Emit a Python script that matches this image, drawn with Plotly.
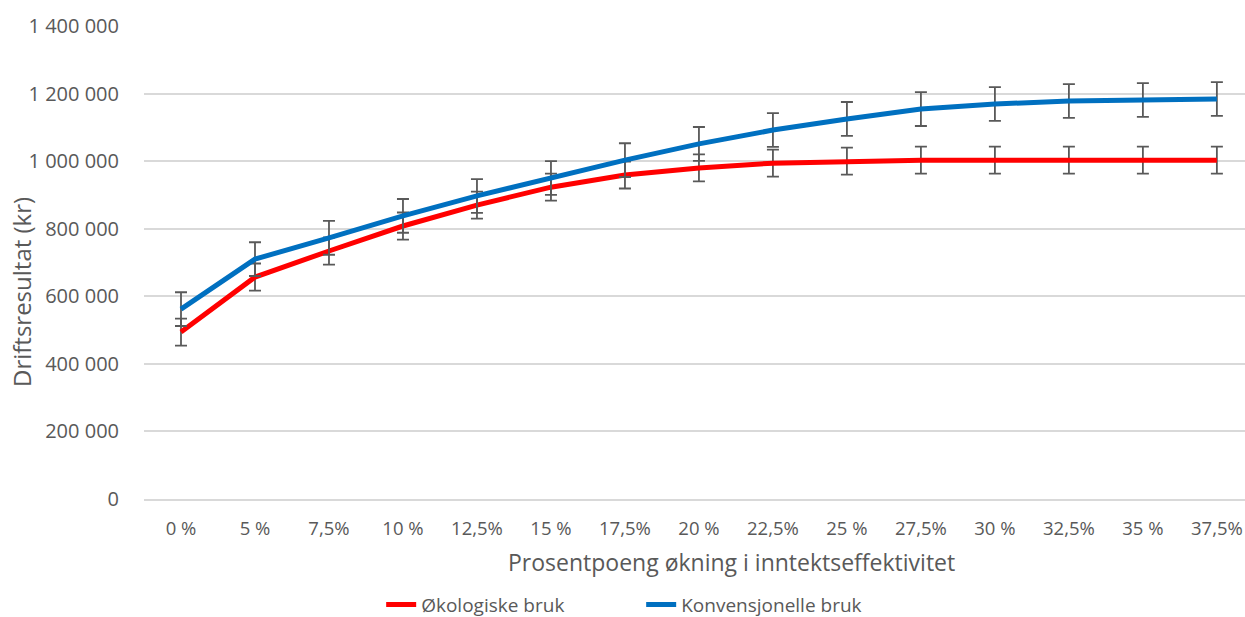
import plotly.graph_objects as go

categories = ["0 %", "5 %", "7,5%", "10 %", "12,5%", "15 %", "17,5%", "20 %",
              "22,5%", "25 %", "27,5%", "30 %", "32,5%", "35 %", "37,5%"]
okologiske = [494000, 657000, 734000, 808000, 870000, 923000, 959000, 980000,
              994000, 1000000, 1003000, 1003000, 1003000, 1003000, 1003000]
konvensjonelle = [562000, 710000, 773000, 838000, 897000, 950000, 1003000, 1051000,
                  1092000, 1125000, 1154000, 1169000, 1178000, 1181000, 1184000]
err_okologiske = 40000
err_konvensjonelle = 50000
y_ticks = [0, 200000, 400000, 600000, 800000, 1000000, 1200000, 1400000]
y_tick_labels = ["0", "200 000", "400 000", "600 000", "800 000", "1 000 000", "1 200 000", "1 400 000"]

FONT = "Open Sans, Liberation Sans, sans-serif"
TXT = "#595959"

fig = go.Figure()
fig.add_trace(go.Scatter(
    x=categories, y=okologiske, mode="lines", name="Økologiske bruk",
    line=dict(color="#FF0000", width=5),
    error_y=dict(type="constant", value=err_okologiske, color="#595959", thickness=1.8, width=6),
))
fig.add_trace(go.Scatter(
    x=categories, y=konvensjonelle, mode="lines", name="Konvensjonelle bruk",
    line=dict(color="#0070C0", width=5),
    error_y=dict(type="constant", value=err_konvensjonelle, color="#595959", thickness=1.8, width=6),
))

fig.update_layout(
    width=1245, height=617,
    margin=dict(l=144, r=0, t=26, b=118, autoexpand=False),
    paper_bgcolor="white", plot_bgcolor="white",
    font=dict(family=FONT, size=18, color=TXT),
    showlegend=True,
    legend=dict(orientation="h", x=0.515, xanchor="center", xref="container",
                y=0.02, yanchor="middle", yref="container", entrywidth=215,
                font=dict(size=19, color=TXT), traceorder="normal"),
    xaxis=dict(type="category", range=[-0.5, 14.38], showgrid=False, automargin=False,
               showline=True, linecolor="#D9D9D9", linewidth=1.5,
               ticks="", tickfont=dict(size=18.5, color=TXT), ticklabelstandoff=12),
    yaxis=dict(range=[0, 1400000], tickvals=y_ticks, ticktext=y_tick_labels, automargin=False,
               showgrid=True, gridcolor="#D9D9D9", gridwidth=1.5,
               zeroline=False, showline=False, ticks="",
               tickfont=dict(size=20, color=TXT), ticklabelstandoff=24),
)
fig.add_annotation(text="Prosentpoeng økning i inntektseffektivitet", x=(731 - 144) / 1101, xref="paper",
                   y=-(562 - 499) / 473, yref="paper", xanchor="center", yanchor="middle",
                   showarrow=False, font=dict(size=23, color=TXT))
fig.add_annotation(text="Driftsresultat (kr)", textangle=-90, x=-(144 - 21) / 1101, xref="paper",
                   y=0.4376, yref="paper", xanchor="center", yanchor="middle",
                   showarrow=False, font=dict(size=24, color=TXT))
fig.write_html("out.html", config={"displayModeBar": False})

with open("out.html", "r", encoding="utf-8") as f:
    html = f.read()
html = html.replace("<body>", '<body style="margin:0;padding:0;overflow:hidden">', 1)
with open("out.html", "w", encoding="utf-8") as f:
    f.write(html)
